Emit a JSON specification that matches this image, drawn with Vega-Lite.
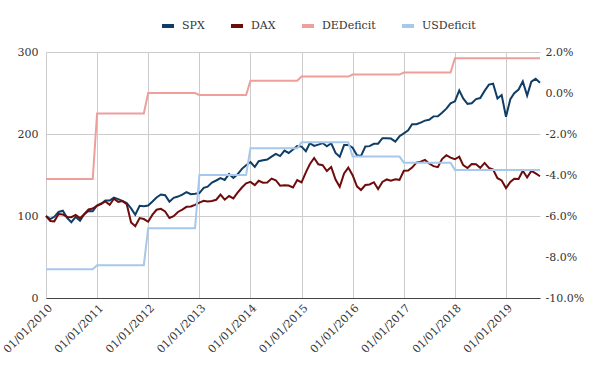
{
  "$schema": "https://vega.github.io/schema/vega-lite/v6.json",
  "width": 494,
  "height": 246,
  "autosize": {"type": "none"},
  "padding": {"left": 46, "top": 52, "right": 60, "bottom": 73},
  "background": "white",
  "config": {
    "font": "DejaVu Serif",
    "view": {"stroke": null},
    "axis": {"labelFont": "DejaVu Serif", "labelFontSize": 11, "labelColor": "#333333"},
    "legend": {"labelFont": "DejaVu Serif", "labelFontSize": 11, "labelColor": "#333333"}
  },
  "data": {"values": [
    {"d":"2010-01-01","SPX":100.0,"DAX":100.0,"DEDeficit":-0.042,"USDeficit":-0.086},
    {"d":"2010-02-01","SPX":96.3,"DAX":93.9,"DEDeficit":-0.042,"USDeficit":-0.086},
    {"d":"2010-03-01","SPX":99.0,"DAX":93.5,"DEDeficit":-0.042,"USDeficit":-0.086},
    {"d":"2010-04-01","SPX":104.9,"DAX":102.5,"DEDeficit":-0.042,"USDeficit":-0.086},
    {"d":"2010-05-01","SPX":106.4,"DAX":101.9,"DEDeficit":-0.042,"USDeficit":-0.086},
    {"d":"2010-06-01","SPX":97.7,"DAX":98.8,"DEDeficit":-0.042,"USDeficit":-0.086},
    {"d":"2010-07-01","SPX":92.4,"DAX":98.6,"DEDeficit":-0.042,"USDeficit":-0.086},
    {"d":"2010-08-01","SPX":98.8,"DAX":101.4,"DEDeficit":-0.042,"USDeficit":-0.086},
    {"d":"2010-09-01","SPX":94.1,"DAX":97.4,"DEDeficit":-0.042,"USDeficit":-0.086},
    {"d":"2010-10-01","SPX":102.3,"DAX":102.1,"DEDeficit":-0.042,"USDeficit":-0.086},
    {"d":"2010-11-01","SPX":106.1,"DAX":108.0,"DEDeficit":-0.042,"USDeficit":-0.086},
    {"d":"2010-12-01","SPX":105.9,"DAX":109.1,"DEDeficit":-0.042,"USDeficit":-0.086},
    {"d":"2011-01-01","SPX":112.8,"DAX":112.5,"DEDeficit":-0.010,"USDeficit":-0.084},
    {"d":"2011-02-01","SPX":115.3,"DAX":114.9,"DEDeficit":-0.010,"USDeficit":-0.084},
    {"d":"2011-03-01","SPX":119.0,"DAX":117.7,"DEDeficit":-0.010,"USDeficit":-0.084},
    {"d":"2011-04-01","SPX":118.9,"DAX":113.7,"DEDeficit":-0.010,"USDeficit":-0.084},
    {"d":"2011-05-01","SPX":122.3,"DAX":121.0,"DEDeficit":-0.010,"USDeficit":-0.084},
    {"d":"2011-06-01","SPX":120.6,"DAX":117.2,"DEDeficit":-0.010,"USDeficit":-0.084},
    {"d":"2011-07-01","SPX":118.4,"DAX":118.2,"DEDeficit":-0.010,"USDeficit":-0.084},
    {"d":"2011-08-01","SPX":115.9,"DAX":114.4,"DEDeficit":-0.010,"USDeficit":-0.084},
    {"d":"2011-09-01","SPX":109.3,"DAX":92.2,"DEDeficit":-0.010,"USDeficit":-0.084},
    {"d":"2011-10-01","SPX":101.5,"DAX":87.5,"DEDeficit":-0.010,"USDeficit":-0.084},
    {"d":"2011-11-01","SPX":112.4,"DAX":97.4,"DEDeficit":-0.010,"USDeficit":-0.084},
    {"d":"2011-12-01","SPX":111.8,"DAX":96.3,"DEDeficit":-0.010,"USDeficit":-0.084},
    {"d":"2012-01-01","SPX":112.8,"DAX":93.0,"DEDeficit":0.000,"USDeficit":-0.066},
    {"d":"2012-02-01","SPX":117.7,"DAX":101.6,"DEDeficit":0.000,"USDeficit":-0.066},
    {"d":"2012-03-01","SPX":122.5,"DAX":107.6,"DEDeficit":0.000,"USDeficit":-0.066},
    {"d":"2012-04-01","SPX":126.3,"DAX":108.7,"DEDeficit":0.000,"USDeficit":-0.066},
    {"d":"2012-05-01","SPX":125.4,"DAX":105.6,"DEDeficit":0.000,"USDeficit":-0.066},
    {"d":"2012-06-01","SPX":117.5,"DAX":97.6,"DEDeficit":0.000,"USDeficit":-0.066},
    {"d":"2012-07-01","SPX":122.2,"DAX":99.7,"DEDeficit":0.000,"USDeficit":-0.066},
    {"d":"2012-08-01","SPX":123.7,"DAX":104.9,"DEDeficit":0.000,"USDeficit":-0.066},
    {"d":"2012-09-01","SPX":126.1,"DAX":107.7,"DEDeficit":0.000,"USDeficit":-0.066},
    {"d":"2012-10-01","SPX":129.2,"DAX":111.2,"DEDeficit":0.000,"USDeficit":-0.066},
    {"d":"2012-11-01","SPX":126.6,"DAX":111.6,"DEDeficit":0.000,"USDeficit":-0.066},
    {"d":"2012-12-01","SPX":127.0,"DAX":113.6,"DEDeficit":0.000,"USDeficit":-0.066},
    {"d":"2013-01-01","SPX":127.9,"DAX":116.4,"DEDeficit":-0.001,"USDeficit":-0.040},
    {"d":"2013-02-01","SPX":134.3,"DAX":118.6,"DEDeficit":-0.001,"USDeficit":-0.040},
    {"d":"2013-03-01","SPX":135.8,"DAX":117.8,"DEDeficit":-0.001,"USDeficit":-0.040},
    {"d":"2013-04-01","SPX":140.7,"DAX":118.3,"DEDeficit":-0.001,"USDeficit":-0.040},
    {"d":"2013-05-01","SPX":143.3,"DAX":119.8,"DEDeficit":-0.001,"USDeficit":-0.040},
    {"d":"2013-06-01","SPX":146.2,"DAX":126.1,"DEDeficit":-0.001,"USDeficit":-0.040},
    {"d":"2013-07-01","SPX":144.0,"DAX":119.9,"DEDeficit":-0.001,"USDeficit":-0.040},
    {"d":"2013-08-01","SPX":151.2,"DAX":124.3,"DEDeficit":-0.001,"USDeficit":-0.040},
    {"d":"2013-09-01","SPX":146.4,"DAX":121.4,"DEDeficit":-0.001,"USDeficit":-0.040},
    {"d":"2013-10-01","SPX":150.8,"DAX":128.4,"DEDeficit":-0.001,"USDeficit":-0.040},
    {"d":"2013-11-01","SPX":157.5,"DAX":134.7,"DEDeficit":-0.001,"USDeficit":-0.040},
    {"d":"2013-12-01","SPX":161.9,"DAX":139.8,"DEDeficit":-0.001,"USDeficit":-0.040},
    {"d":"2014-01-01","SPX":165.8,"DAX":141.6,"DEDeficit":0.006,"USDeficit":-0.027},
    {"d":"2014-02-01","SPX":159.9,"DAX":137.6,"DEDeficit":0.006,"USDeficit":-0.027},
    {"d":"2014-03-01","SPX":166.8,"DAX":143.0,"DEDeficit":0.006,"USDeficit":-0.027},
    {"d":"2014-04-01","SPX":167.9,"DAX":140.6,"DEDeficit":0.006,"USDeficit":-0.027},
    {"d":"2014-05-01","SPX":168.9,"DAX":140.9,"DEDeficit":0.006,"USDeficit":-0.027},
    {"d":"2014-06-01","SPX":172.5,"DAX":145.6,"DEDeficit":0.006,"USDeficit":-0.027},
    {"d":"2014-07-01","SPX":175.8,"DAX":143.6,"DEDeficit":0.006,"USDeficit":-0.027},
    {"d":"2014-08-01","SPX":173.1,"DAX":137.0,"DEDeficit":0.006,"USDeficit":-0.027},
    {"d":"2014-09-01","SPX":179.7,"DAX":137.5,"DEDeficit":0.006,"USDeficit":-0.027},
    {"d":"2014-10-01","SPX":176.9,"DAX":137.2,"DEDeficit":0.006,"USDeficit":-0.027},
    {"d":"2014-11-01","SPX":181.0,"DAX":134.8,"DEDeficit":0.006,"USDeficit":-0.027},
    {"d":"2014-12-01","SPX":185.4,"DAX":143.9,"DEDeficit":0.006,"USDeficit":-0.027},
    {"d":"2015-01-01","SPX":184.6,"DAX":141.0,"DEDeficit":0.008,"USDeficit":-0.024},
    {"d":"2015-02-01","SPX":178.9,"DAX":153.3,"DEDeficit":0.008,"USDeficit":-0.024},
    {"d":"2015-03-01","SPX":188.7,"DAX":163.1,"DEDeficit":0.008,"USDeficit":-0.024},
    {"d":"2015-04-01","SPX":185.4,"DAX":170.7,"DEDeficit":0.008,"USDeficit":-0.024},
    {"d":"2015-05-01","SPX":187.0,"DAX":163.0,"DEDeficit":0.008,"USDeficit":-0.024},
    {"d":"2015-06-01","SPX":189.0,"DAX":162.0,"DEDeficit":0.008,"USDeficit":-0.024},
    {"d":"2015-07-01","SPX":185.0,"DAX":154.9,"DEDeficit":0.008,"USDeficit":-0.024},
    {"d":"2015-08-01","SPX":188.7,"DAX":159.7,"DEDeficit":0.008,"USDeficit":-0.024},
    {"d":"2015-09-01","SPX":176.9,"DAX":144.5,"DEDeficit":0.008,"USDeficit":-0.024},
    {"d":"2015-10-01","SPX":172.2,"DAX":135.7,"DEDeficit":0.008,"USDeficit":-0.024},
    {"d":"2015-11-01","SPX":186.5,"DAX":152.0,"DEDeficit":0.008,"USDeficit":-0.024},
    {"d":"2015-12-01","SPX":186.6,"DAX":159.0,"DEDeficit":0.008,"USDeficit":-0.024},
    {"d":"2016-01-01","SPX":183.3,"DAX":149.7,"DEDeficit":0.009,"USDeficit":-0.031},
    {"d":"2016-02-01","SPX":174.0,"DAX":136.2,"DEDeficit":0.009,"USDeficit":-0.031},
    {"d":"2016-03-01","SPX":173.3,"DAX":131.7,"DEDeficit":0.009,"USDeficit":-0.031},
    {"d":"2016-04-01","SPX":184.7,"DAX":137.8,"DEDeficit":0.009,"USDeficit":-0.031},
    {"d":"2016-05-01","SPX":185.2,"DAX":138.5,"DEDeficit":0.009,"USDeficit":-0.031},
    {"d":"2016-06-01","SPX":188.1,"DAX":141.2,"DEDeficit":0.009,"USDeficit":-0.031},
    {"d":"2016-07-01","SPX":188.2,"DAX":132.8,"DEDeficit":0.009,"USDeficit":-0.031},
    {"d":"2016-08-01","SPX":194.9,"DAX":141.5,"DEDeficit":0.009,"USDeficit":-0.031},
    {"d":"2016-09-01","SPX":194.7,"DAX":144.6,"DEDeficit":0.009,"USDeficit":-0.031},
    {"d":"2016-10-01","SPX":194.4,"DAX":143.1,"DEDeficit":0.009,"USDeficit":-0.031},
    {"d":"2016-11-01","SPX":190.7,"DAX":144.8,"DEDeficit":0.009,"USDeficit":-0.031},
    {"d":"2016-12-01","SPX":197.2,"DAX":144.1,"DEDeficit":0.009,"USDeficit":-0.031},
    {"d":"2017-01-01","SPX":200.8,"DAX":155.1,"DEDeficit":0.010,"USDeficit":-0.034},
    {"d":"2017-02-01","SPX":204.4,"DAX":155.5,"DEDeficit":0.010,"USDeficit":-0.034},
    {"d":"2017-03-01","SPX":212.0,"DAX":159.1,"DEDeficit":0.010,"USDeficit":-0.034},
    {"d":"2017-04-01","SPX":211.9,"DAX":165.1,"DEDeficit":0.010,"USDeficit":-0.034},
    {"d":"2017-05-01","SPX":213.8,"DAX":166.3,"DEDeficit":0.010,"USDeficit":-0.034},
    {"d":"2017-06-01","SPX":216.3,"DAX":168.3,"DEDeficit":0.010,"USDeficit":-0.034},
    {"d":"2017-07-01","SPX":217.3,"DAX":164.0,"DEDeficit":0.010,"USDeficit":-0.034},
    {"d":"2017-08-01","SPX":221.5,"DAX":160.8,"DEDeficit":0.010,"USDeficit":-0.034},
    {"d":"2017-09-01","SPX":221.7,"DAX":159.6,"DEDeficit":0.010,"USDeficit":-0.034},
    {"d":"2017-10-01","SPX":225.9,"DAX":169.4,"DEDeficit":0.010,"USDeficit":-0.034},
    {"d":"2017-11-01","SPX":230.9,"DAX":174.2,"DEDeficit":0.010,"USDeficit":-0.034},
    {"d":"2017-12-01","SPX":237.4,"DAX":171.1,"DEDeficit":0.010,"USDeficit":-0.034},
    {"d":"2018-01-01","SPX":239.8,"DAX":169.2,"DEDeficit":0.017,"USDeficit":-0.0375},
    {"d":"2018-02-01","SPX":253.2,"DAX":172.3,"DEDeficit":0.017,"USDeficit":-0.0375},
    {"d":"2018-03-01","SPX":243.4,"DAX":162.0,"DEDeficit":0.017,"USDeficit":-0.0375},
    {"d":"2018-04-01","SPX":236.8,"DAX":158.5,"DEDeficit":0.017,"USDeficit":-0.0375},
    {"d":"2018-05-01","SPX":237.5,"DAX":163.5,"DEDeficit":0.017,"USDeficit":-0.0375},
    {"d":"2018-06-01","SPX":242.6,"DAX":163.0,"DEDeficit":0.017,"USDeficit":-0.0375},
    {"d":"2018-07-01","SPX":243.8,"DAX":158.7,"DEDeficit":0.017,"USDeficit":-0.0375},
    {"d":"2018-08-01","SPX":252.6,"DAX":164.7,"DEDeficit":0.017,"USDeficit":-0.0375},
    {"d":"2018-09-01","SPX":260.2,"DAX":158.6,"DEDeficit":0.017,"USDeficit":-0.0375},
    {"d":"2018-10-01","SPX":261.3,"DAX":156.7,"DEDeficit":0.017,"USDeficit":-0.0375},
    {"d":"2018-11-01","SPX":243.2,"DAX":146.1,"DEDeficit":0.017,"USDeficit":-0.0375},
    {"d":"2018-12-01","SPX":247.5,"DAX":143.3,"DEDeficit":0.017,"USDeficit":-0.0375},
    {"d":"2019-01-01","SPX":221.0,"DAX":134.1,"DEDeficit":0.017,"USDeficit":-0.0375},
    {"d":"2019-02-01","SPX":242.5,"DAX":141.5,"DEDeficit":0.017,"USDeficit":-0.0375},
    {"d":"2019-03-01","SPX":249.7,"DAX":145.5,"DEDeficit":0.017,"USDeficit":-0.0375},
    {"d":"2019-04-01","SPX":254.2,"DAX":145.2,"DEDeficit":0.017,"USDeficit":-0.0375},
    {"d":"2019-05-01","SPX":264.2,"DAX":155.2,"DEDeficit":0.017,"USDeficit":-0.0375},
    {"d":"2019-06-01","SPX":246.8,"DAX":147.0,"DEDeficit":0.017,"USDeficit":-0.0375},
    {"d":"2019-07-01","SPX":263.8,"DAX":155.0,"DEDeficit":0.017,"USDeficit":-0.0375},
    {"d":"2019-08-01","SPX":267.3,"DAX":152.0,"DEDeficit":0.017,"USDeficit":-0.0375},
    {"d":"2019-09-01","SPX":262.4,"DAX":148.5,"DEDeficit":0.017,"USDeficit":-0.0375}
  ]},
  "encoding": {
    "x": {
      "field": "d", "type": "temporal",
      "scale": {"type": "utc", "domain": [{"year": 2010, "month": 1, "date": 1, "utc": true}, {"year": 2019, "month": 9, "date": 1, "utc": true}]},
      "axis": {
        "title": null,
        "labelExpr": "utcFormat(datum.value, '%m/%d/%Y')",
        "values": [
          {"year": 2010, "month": 1, "date": 1, "utc": true},
          {"year": 2011, "month": 1, "date": 1, "utc": true},
          {"year": 2012, "month": 1, "date": 1, "utc": true},
          {"year": 2013, "month": 1, "date": 1, "utc": true},
          {"year": 2014, "month": 1, "date": 1, "utc": true},
          {"year": 2015, "month": 1, "date": 1, "utc": true},
          {"year": 2016, "month": 1, "date": 1, "utc": true},
          {"year": 2017, "month": 1, "date": 1, "utc": true},
          {"year": 2018, "month": 1, "date": 1, "utc": true},
          {"year": 2019, "month": 1, "date": 1, "utc": true}
        ],
        "labelAngle": -45,
        "labelAlign": "right",
        "labelBaseline": "top",
        "labelPadding": 4,
        "ticks": false,
        "grid": true,
        "gridColor": "#cccccc",
        "domain": true,
        "domainColor": "#444444",
        "labelFlush": false,
        "labelOverlap": false
      }
    },
    "color": {
      "field": "series", "type": "nominal",
      "scale": {"domain": ["SPX", "DAX", "DEDeficit", "USDeficit"], "range": ["#0f3d66", "#6e0b0b", "#ee9e9b", "#a6c8ec"]},
      "legend": {
        "title": null,
        "orient": "none",
        "direction": "horizontal",
        "legendX": 114,
        "legendY": -34,
        "symbolType": "stroke",
        "symbolStrokeWidth": 4,
        "symbolSize": 144,
        "columnPadding": 18,
        "labelOffset": 6
      }
    }
  },
  "layer": [
    {
      "transform": [{"fold": ["SPX", "DAX"], "as": ["series", "v"]}],
      "mark": {"type": "line", "strokeWidth": 2},
      "encoding": {
        "y": {
          "field": "v", "type": "quantitative",
          "scale": {"domain": [0, 300], "nice": false},
          "axis": {"title": null, "values": [0, 100, 200, 300], "grid": true, "gridColor": "#cccccc", "domain": false, "ticks": false, "labelPadding": 8}
        }
      }
    },
    {
      "transform": [{"fold": ["DEDeficit", "USDeficit"], "as": ["series", "v"]}],
      "mark": {"type": "line", "strokeWidth": 2},
      "encoding": {
        "y": {
          "field": "v", "type": "quantitative",
          "scale": {"domain": [-0.1, 0.02], "nice": false},
          "axis": {"title": null, "orient": "right", "values": [-0.1, -0.08, -0.06, -0.04, -0.02, 0, 0.02], "labelExpr": "replace(format(datum.value, '.1%'), '\u2212', '-')", "grid": false, "domain": false, "ticks": false, "labelPadding": 5}
        }
      }
    }
  ],
  "resolve": {"scale": {"y": "independent"}}
}
